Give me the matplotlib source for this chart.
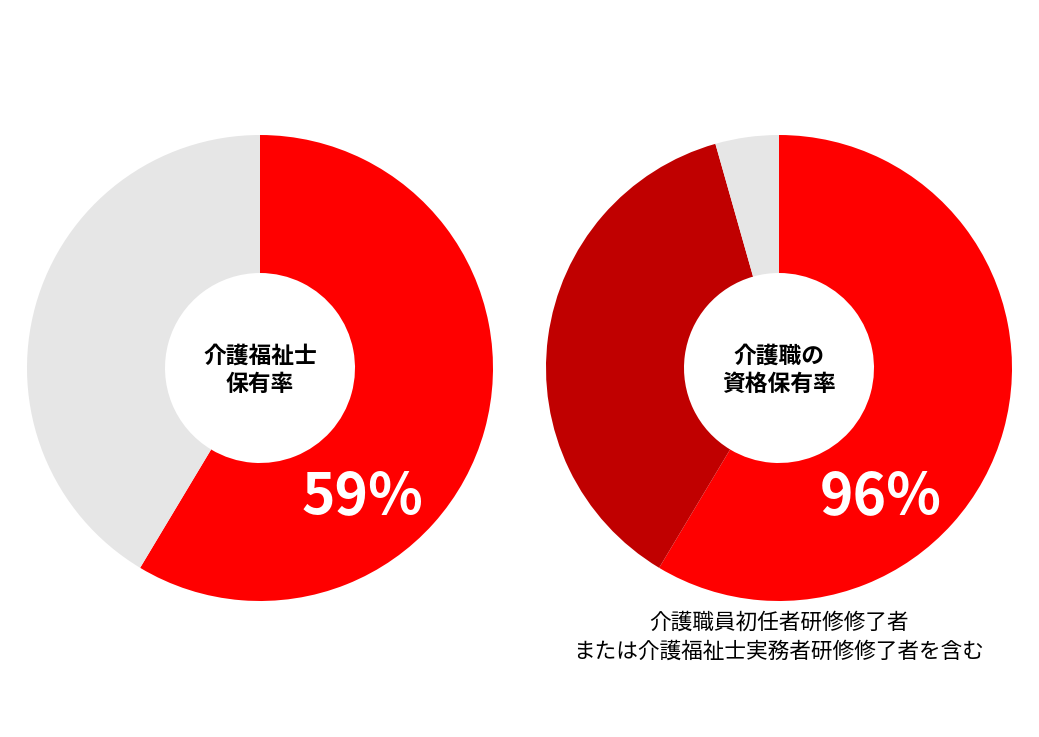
import numpy as np
import matplotlib.pyplot as plt

plt.rcParams['font.family'] = ['Noto Sans CJK JP', 'DejaVu Sans']

left_vals = [58.6, 41.4]
left_colors = ['#ff0000', '#e6e6e6']
left_title = '介護福祉士\n保有率'
left_label = '59%'

right_vals = [58.6, 37.0, 4.4]
right_colors = ['#ff0000', '#c00000', '#e6e6e6']
right_title = '介護職の\n資格保有率'
right_label = '96%'

note = '介護職員初任者研修修了者\nまたは介護福祉士実務者研修修了者を含む'

W, H = 1039, 737
fig = plt.figure(figsize=(W/100, H/100), dpi=100)

def donut(cx, vals, colors, title, label):
    r = 233
    ax = fig.add_axes([(cx - r)/W, (H - 368 - r)/H, 2*r/W, 2*r/H])
    ax.pie(vals, colors=colors, startangle=90, counterclock=False,
           wedgeprops=dict(width=1 - 95/233, linewidth=0), radius=1)
    ax.set_xlim(-1, 1)
    ax.set_ylim(-1, 1)
    ax.set_aspect('equal')
    ax.axis('off')
    ax.text(0, -0.01, title, ha='center', va='center', fontsize=16.4,
            fontweight='bold', linespacing=1.35)
    ax.text(102/233, -129/233, label, ha='center', va='center', fontsize=41,
            fontweight='bold', color='white')
    return ax

donut(260, left_vals, left_colors, left_title, left_label)
donut(779, right_vals, right_colors, right_title, right_label)

fig.text(779/W, 1 - 637/H, note, ha='center', va='center', fontsize=15.6,
         linespacing=1.38)

fig.savefig('out.png', dpi=100, facecolor='white')
